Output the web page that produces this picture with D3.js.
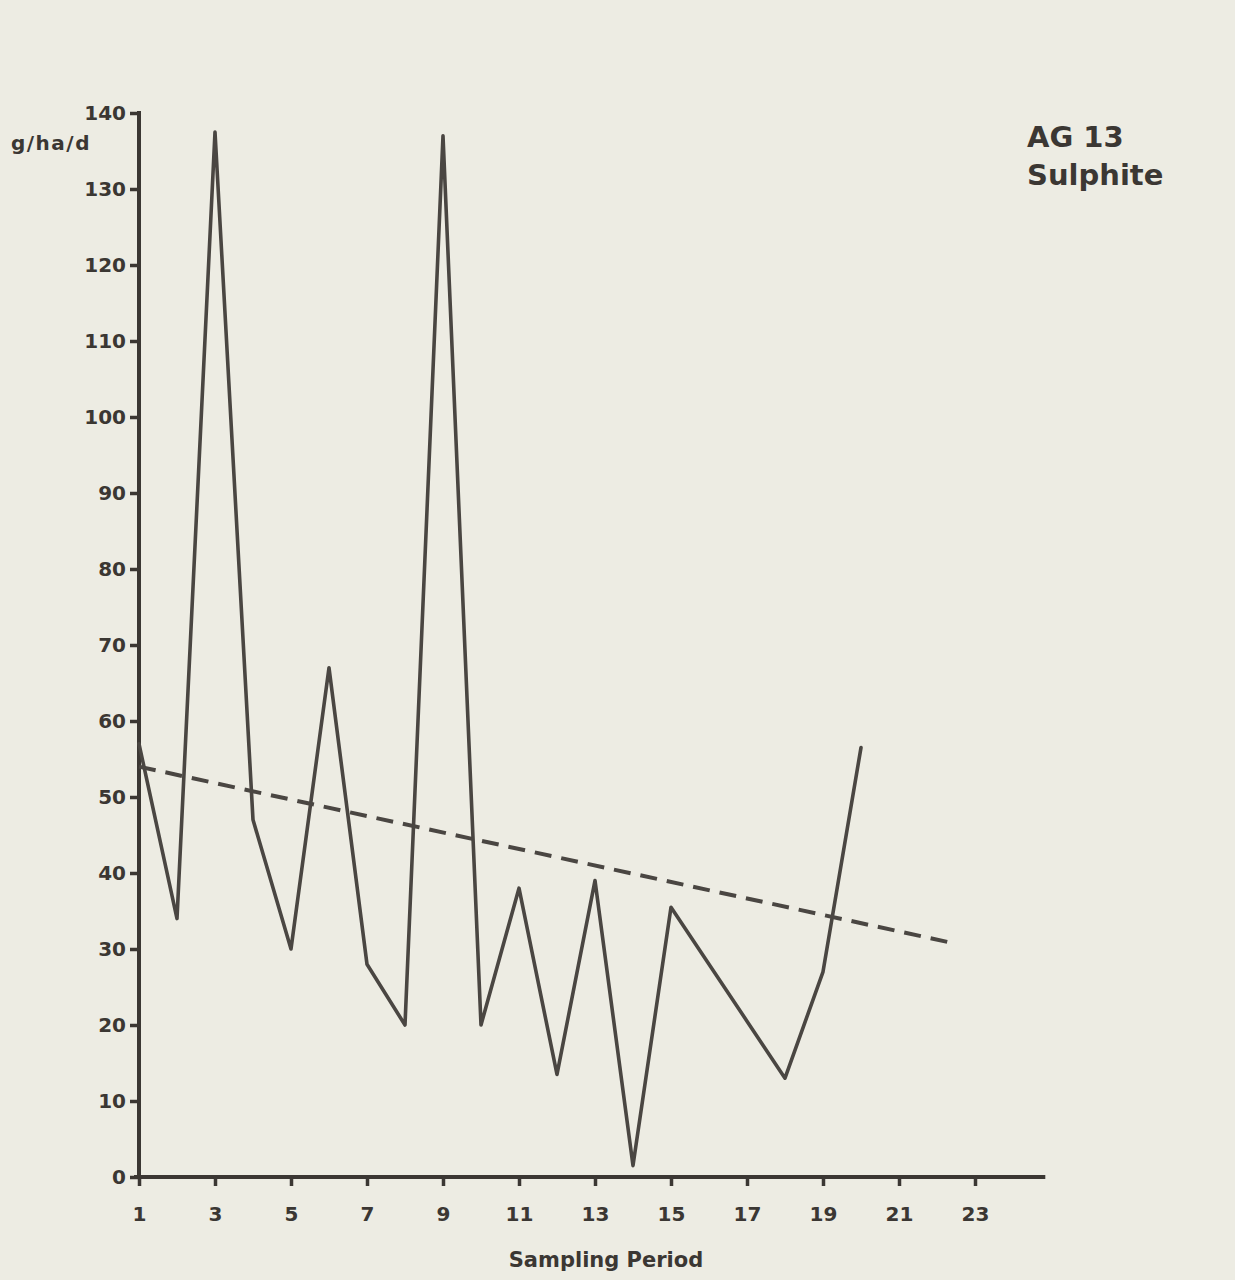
<!DOCTYPE html>
<html>
<head>
<meta charset="utf-8">
<script src="https://cdn.jsdelivr.net/npm/d3@7"></script>
<style>
  html, body { margin: 0; padding: 0; background: #edece3; }
  svg { display: block; }
  text { font-family: "DejaVu Sans", sans-serif; font-weight: 700; fill: #3b3733; }
</style>
</head>
<body>
<script>
// Sulphite deposition per sampling period (g/ha/d)
const periods = [1, 2, 3, 4, 5, 6, 7, 8, 9, 10, 11, 12, 13, 14, 15, 16, 17, 18, 19, 20];
const sulphite = [57, 34, 137.5, 47, 30, 67, 28, 20, 137, 20, 38, 13.5, 39, 1.5, 35.5, 28, 20.5, 13, 27, 56.5];

// Linear trend (dashed), endpoints
const trendPeriods = [1, 22.4];
const trendValues = [54, 30.8];

const yTicks = [0, 10, 20, 30, 40, 50, 60, 70, 80, 90, 100, 110, 120, 130, 140];
const xTicks = [1, 3, 5, 7, 9, 11, 13, 15, 17, 19, 21, 23];

const titleLines = ["AG 13", "Sulphite"];
const yLabel = "g/ha/d";
const xLabel = "Sampling Period";

const W = 1235, H = 1280;
const ink = "#3b3733";
const lineInk = "#4a4642";
const font = "'DejaVu Sans', sans-serif";

const svg = d3.select("body").append("svg").attr("width", W).attr("height", H);

const x = d3.scaleLinear().domain([1, 23]).range([139, 975]);
const y = d3.scaleLinear().domain([0, 140]).range([1177, 113]);

// y axis
const yAxis = svg.append("g").attr("transform", `translate(${x(1)},0)`)
  .call(d3.axisLeft(y).tickValues(yTicks).tickSize(9).tickPadding(4).tickSizeOuter(0));
yAxis.select(".domain").attr("stroke", ink).attr("stroke-width", 4)
  .attr("d", `M0,${y(0) + 2}V${y(140) - 2}`);
yAxis.selectAll(".tick line").attr("stroke", ink).attr("stroke-width", 3.5);
yAxis.selectAll(".tick text").attr("font-size", 20).attr("fill", ink)
  .attr("font-family", font).attr("font-weight", 700);

// x axis
const xAxis = svg.append("g").attr("transform", `translate(0,${y(0)})`)
  .call(d3.axisBottom(x).tickValues(xTicks).tickSize(9).tickPadding(21).tickSizeOuter(0));
xAxis.select(".domain").attr("stroke", ink).attr("stroke-width", 4)
  .attr("d", `M${x(1) - 5},0H${x(24.85)}`);
xAxis.selectAll(".tick line").attr("stroke", ink).attr("stroke-width", 3.5);
xAxis.selectAll(".tick text").attr("font-size", 20).attr("fill", ink)
  .attr("font-family", font).attr("font-weight", 700);

// data line
const pts = periods.map((p, i) => [p, sulphite[i]]);
svg.append("path")
  .attr("d", d3.line().x(d => x(d[0])).y(d => y(d[1]))(pts))
  .attr("fill", "none").attr("stroke", lineInk).attr("stroke-width", 3.6)
  .attr("stroke-linejoin", "round").attr("stroke-linecap", "round");

// trend line
const tpts = trendPeriods.map((p, i) => [p, trendValues[i]]);
svg.append("path")
  .attr("d", d3.line().x(d => x(d[0])).y(d => y(d[1]))(tpts))
  .attr("fill", "none").attr("stroke", lineInk).attr("stroke-width", 4)
  .attr("stroke-dasharray", "17,10");

// labels
svg.append("text").attr("x", 11).attr("y", 150).attr("font-size", 20)
  .attr("letter-spacing", 1.5).text(yLabel);
svg.append("text").attr("x", 606).attr("y", 1267).attr("font-size", 21)
  .attr("text-anchor", "middle").text(xLabel);
svg.append("text").attr("x", 1027).attr("y", 147).attr("font-size", 29).text(titleLines[0]);
svg.append("text").attr("x", 1027).attr("y", 185).attr("font-size", 29).text(titleLines[1]);
</script>
</body>
</html>
